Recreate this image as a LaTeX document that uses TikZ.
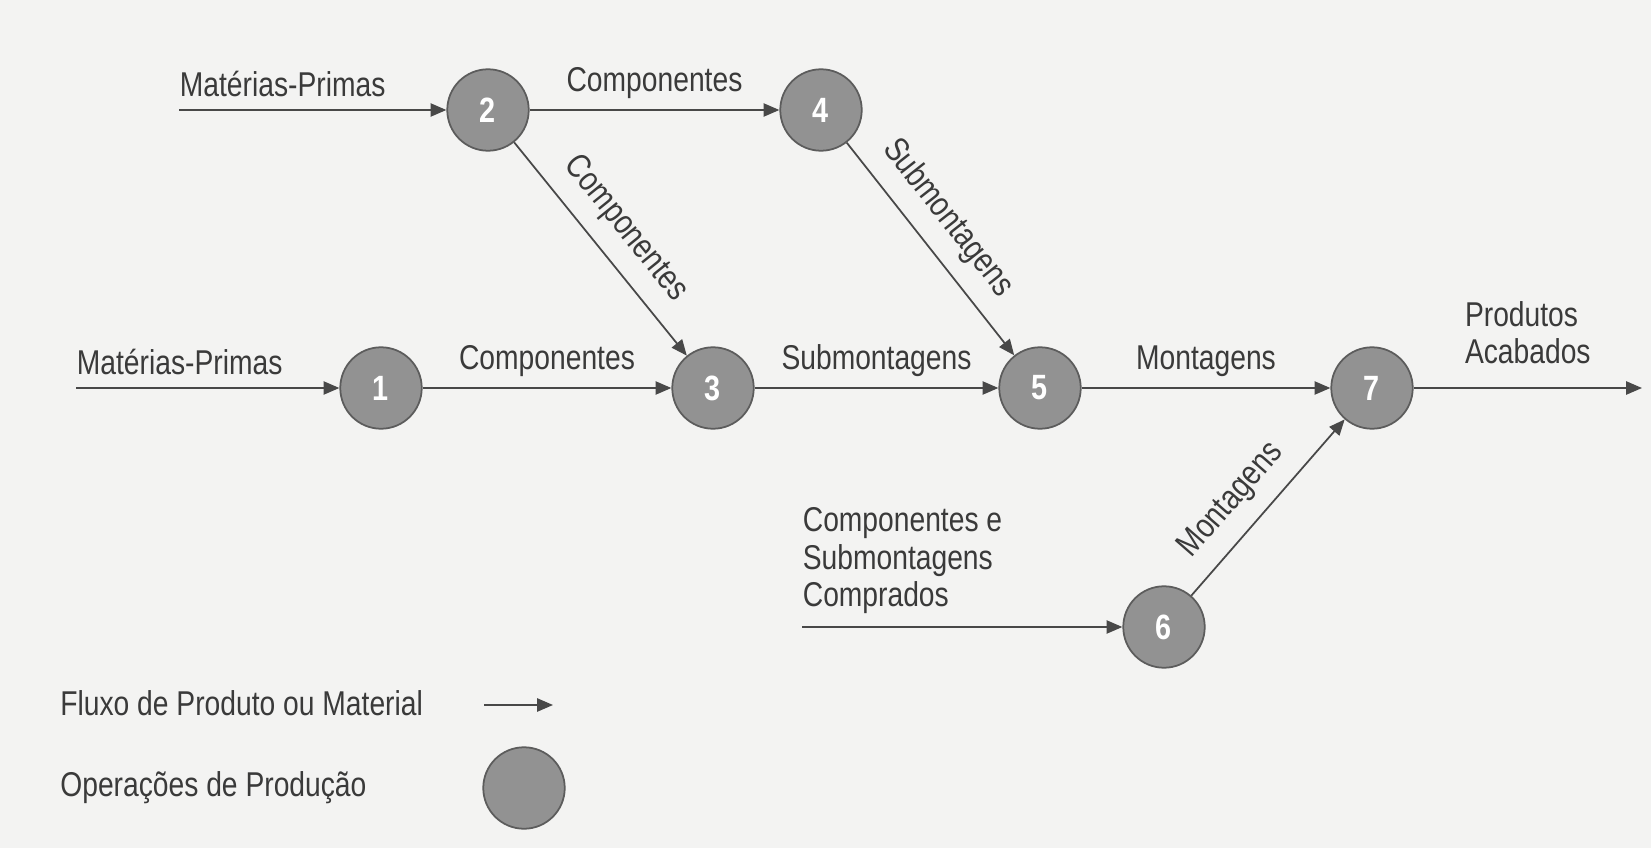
\documentclass[tikz,border=0pt]{standalone}
\usepackage{fontspec}
\setmainfont{Liberation Sans}[FakeStretch=0.82]
\usetikzlibrary{arrows.meta}
\definecolor{papel}{RGB}{243,243,242}
\definecolor{opfill}{RGB}{146,146,146}
\definecolor{opline}{RGB}{92,92,92}
\definecolor{fluxo}{RGB}{72,72,72}
\definecolor{texto}{RGB}{58,58,58}

\begin{document}
\begin{tikzpicture}
  [x=0.02cm,y=-0.02cm,font=\fontsize{19.6}{21.3}\selectfont,text=texto,
   every node/.style={inner sep=2pt}]
  \tikzstyle{op} = [circle,fill=opfill,draw=opline,line width=1pt,minimum size=1.63cm,
                    text=white,font=\fontsize{20}{20}\selectfont\bfseries]
  \tikzstyle{flow} = [draw=fluxo,line width=1pt,-{Triangle[length=9pt,width=7.5pt]}]
  \tikzstyle{lbl} = [midway,above=4pt]
  \tikzstyle{lblini} = [pos=0,anchor=south west,inner xsep=0pt,yshift=5pt]

  \fill[papel] (0,0) rectangle (1651,848);
  \useasboundingbox (0,0) rectangle (1651,848);

  \node[op] (n1) at (381,388) {1};
  \node[op] (n2) at (488,110) {2};
  \node[op] (n3) at (713,388) {3};
  \node[op] (n4) at (821,110) {4};
  \node[op] (n5) at (1040,388) {5};
  \node[op] (n6) at (1164,627) {6};
  \node[op] (n7) at (1372,388) {7};

  \coordinate (mp2) at (179,110);
  \coordinate (mp1) at (76,388);
  \coordinate (cp6) at (802,627);
  \coordinate (pa7) at (1642,388);

  \draw[flow] (mp2) -- node[lblini] (t2) {Matérias-Primas} (n2);
  \draw[flow] (mp1) -- node[lblini] (t1) {Matérias-Primas} (n1);
  \draw[flow] (cp6) -- node[lblini,align=left] (t6)
    {Componentes e\\Submontagens\\Comprados} (n6);

  \foreach \from/\to/\txt in {n2/n4/Componentes,n1/n3/Componentes,
                              n3/n5/Submontagens,n5/n7/Montagens}
    \draw[flow] (\from) -- node[lbl] (t\from\to) {\txt} (\to);

  \draw[flow] (n2) -- node[lbl,sloped,above=3pt] (s23) {Componentes} (n3);
  \draw[flow] (n4) -- node[lbl,sloped,above=3pt,pos=0.45] (s45) {Submontagens} (n5);
  \draw[flow] (n6) -- node[lbl,sloped,above=3pt,pos=0.42] (s67) {Montagens} (n7);
  \draw[flow] (n7) -- node[lbl,align=left,above=7pt] (t7) {Produtos\\Acabados} (pa7);

  % legenda
  \node[anchor=west,inner xsep=0pt] (leg1) at (60,703) {Fluxo de Produto ou Material};
  \coordinate (la) at (484,705);
  \coordinate (lb) at (553,705);
  \draw[flow] (la) -- (lb);
  \node[anchor=west,inner xsep=0pt] (leg2) at (60,788) {Operações de Produção};
  \node[op] (legop) at (524,788) {};

\end{tikzpicture}
\end{document}
